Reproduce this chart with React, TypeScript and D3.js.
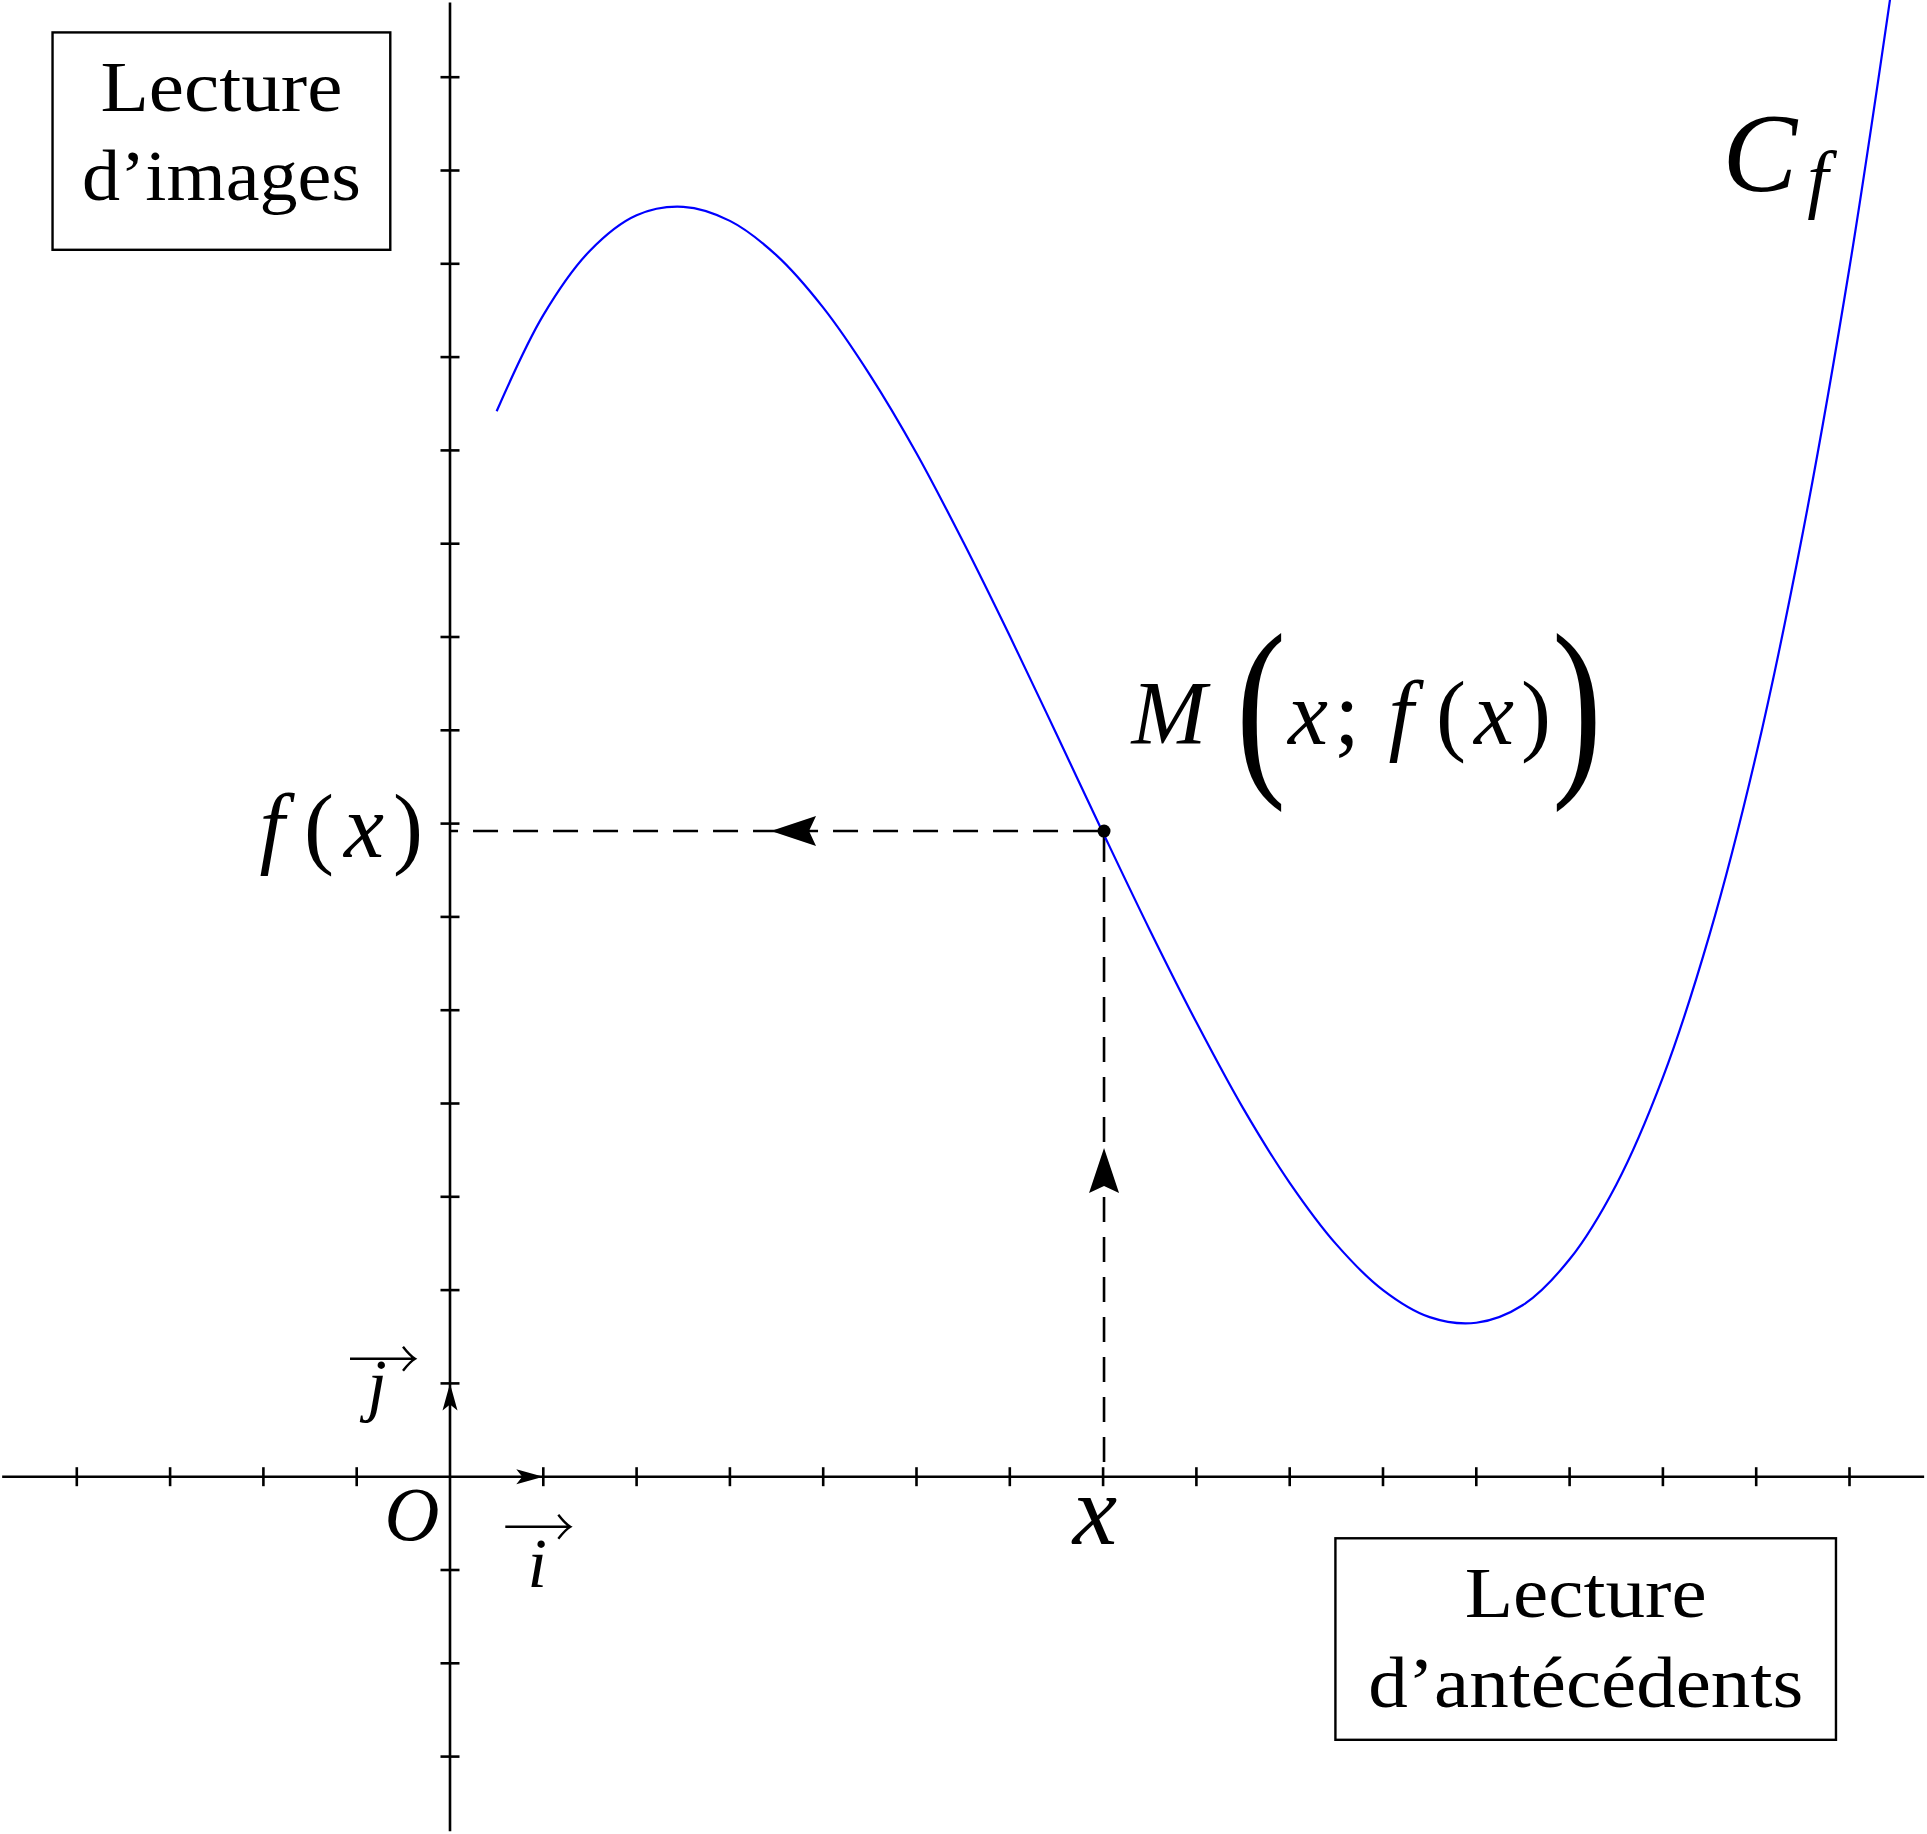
import React from "react";
import * as d3 from "d3";

// graduations du repère (unité = 1)
const xTicks = [-4, -3, -2, -1, 1, 2, 3, 4, 5, 6, 7, 8, 9, 10, 11, 12, 13, 14, 15];
const yTicks = [-3, -2, -1, 1, 2, 3, 4, 5, 6, 7, 8, 9, 10, 11, 12, 13, 14, 15];
const xAxisRange = [-4.8, 15.8];
const yAxisRange = [-3.8, 15.8];

const curveX = [
  0.5, 1, 1.5, 2, 2.5, 3, 3.5, 4, 4.5, 5, 5.5, 6, 6.5, 7, 7.5, 8, 8.5, 9, 9.5,
  10, 10.5, 11, 11.5, 12, 12.5, 13, 13.5, 14, 14.5, 15, 15.45,
];
const curveY = [
  11.42, 12.45, 13.14, 13.52, 13.61, 13.46, 13.09, 12.53, 11.81, 10.97, 10.02,
  9.01, 7.96, 6.9, 5.86, 4.87, 3.95, 3.15, 2.49, 2.0, 1.71, 1.65, 1.84, 2.33,
  3.13, 4.28, 5.81, 7.74, 10.12, 12.96, 15.94,
];

// point M(x ; f(x))
const pointM = [7.01, 6.92];

const boxImagesLines = ["Lecture", "d’images"];
const boxAntecedentsLines = ["Lecture", "d’antécédents"];

const serif = "'Liberation Serif', 'Times New Roman', serif";

export default function App() {
  const W = 1927;
  const H = 1834;
  const ox = 450;
  const oy = 1476.7;
  const unit = 93.3;

  const x = d3.scaleLinear().domain([0, 1]).range([ox, ox + unit]);
  const y = d3.scaleLinear().domain([0, 1]).range([oy, oy - unit]);

  const pts = curveX.map((v, i) => [v, curveY[i]] as [number, number]);
  const line = d3
    .line<[number, number]>()
    .x((d) => x(d[0]))
    .y((d) => y(d[1]))
    .curve(d3.curveCatmullRom.alpha(0.5));

  const mx = x(pointM[0]);
  const my = y(pointM[1]);

  // pointe de flèche (type pstricks), pointe en (0,0) dirigée vers +x
  const head = (len: number, half: number, notch: number) =>
    `M0,0 L${-len},${-half} L${-notch},0 L${-len},${half} Z`;

  // flèche de vecteur au-dessus d'une lettre
  const vecArrow = (x0: number, x1: number, yy: number) =>
    `M${x0},${yy} L${x1},${yy} M${x1 - 12},${yy - 12} Q${x1 - 5},${yy - 3} ${x1},${yy} Q${x1 - 5},${yy + 3} ${x1 - 12},${yy + 12}`;

  // big: grande parenthèse étirée verticalement
  const mPieces = [
    { t: "M", dx: 65, it: true, big: false },
    { t: "(", dx: 157, it: false, big: true },
    { t: "x", dx: 204, it: true, big: false },
    { t: ";", dx: 243, it: false, big: false },
    { t: "f", dx: 297, it: true, big: false },
    { t: "(", dx: 347, it: false, big: false },
    { t: "x", dx: 390, it: true, big: false },
    { t: ")", dx: 432, it: false, big: false },
    { t: ")", dx: 473, it: false, big: true },
  ];

  const fxPieces = [
    { t: "f", dx: -178, it: true },
    { t: "(", dx: -131, it: false },
    { t: "x", dx: -86, it: true },
    { t: ")", dx: -42, it: false },
  ];

  const box = (
    x0: number,
    x1: number,
    y0: number,
    y1: number,
    lines: string[],
    widths: number[],
    base: number[]
  ) => {
    const cx = (x(x0) + x(x1)) / 2;
    return (
      <g>
        <rect
          x={x(x0)}
          y={y(y0)}
          width={x(x1) - x(x0)}
          height={y(y1) - y(y0)}
          fill="none"
          stroke="#000"
          strokeWidth={2.4}
        />
        {lines.map((l, i) => (
          <text
            key={i}
            x={cx}
            y={y(y0) + base[i]}
            textAnchor="middle"
            fontFamily={serif}
            fontSize={72}
            textLength={widths[i]}
            lengthAdjust="spacingAndGlyphs"
          >
            {l}
          </text>
        ))}
      </g>
    );
  };

  const bigScale = 1.31;
  const bigBase = my - 60.7;

  return (
    <svg
      width={W}
      height={H}
      style={{ position: "absolute", left: 0, top: 0, display: "block" }}
    >
      <rect width={W} height={H} fill="#fff" />

      {/* axes */}
      <line x1={x(xAxisRange[0])} x2={x(xAxisRange[1])} y1={oy} y2={oy} stroke="#000" strokeWidth={2.6} />
      <line x1={ox} x2={ox} y1={y(yAxisRange[0])} y2={y(yAxisRange[1])} stroke="#000" strokeWidth={2.6} />
      {xTicks.map((t) => (
        <line key={"xt" + t} x1={x(t)} x2={x(t)} y1={oy - 9.5} y2={oy + 9.5} stroke="#000" strokeWidth={2.6} />
      ))}
      {yTicks.map((t) => (
        <line key={"yt" + t} x1={ox - 9.5} x2={ox + 9.5} y1={y(t)} y2={y(t)} stroke="#000" strokeWidth={2.6} />
      ))}

      {/* vecteurs unitaires */}
      <path d={head(27, 7.5, 21)} transform={`translate(${x(1)},${oy})`} fill="#000" />
      <path d={head(27, 7.5, 21)} transform={`translate(${ox},${y(1)}) rotate(-90)`} fill="#000" />

      {/* pointillés de lecture */}
      <path d={`M${mx},${my} L${ox},${my}`} stroke="#000" strokeWidth={2.6} strokeDasharray="25 15" strokeDashoffset={34} fill="none" />
      <path d={`M${mx},${my} L${mx},${oy}`} stroke="#000" strokeWidth={2.6} strokeDasharray="25 15" strokeDashoffset={34} fill="none" />
      <path d={head(45, 15, 38)} transform={`translate(${mx},${y(pointM[1] / 2) - 6}) rotate(-90)`} fill="#000" />
      <path d={head(45, 15, 38)} transform={`translate(${x(pointM[0] / 2) - 6},${my}) rotate(180)`} fill="#000" />

      {/* courbe */}
      <path d={line(pts) ?? ""} fill="none" stroke="#0000ff" strokeWidth={2.2} />
      <circle cx={mx} cy={my} r={6.5} fill="#000" />

      {/* étiquettes */}
      <g fontFamily={serif} textAnchor="middle">
        <text x={ox - 38} y={oy + 63} fontSize={76} fontStyle="italic">O</text>
        <text x={x(1) - 6} y={oy + 110} fontSize={70} fontStyle="italic">i</text>
        <path d={vecArrow(x(1) - 38, x(1) + 27, oy + 50)} stroke="#000" strokeWidth={2.4} fill="none" />
        <text x={ox - 73} y={oy - 69} fontSize={70} fontStyle="italic">j</text>
        <path d={vecArrow(ox - 100, ox - 35, oy - 118)} stroke="#000" strokeWidth={2.4} fill="none" />

        <text x={mx - 9} y={oy + 67} fontSize={100} fontStyle="italic">x</text>

        {fxPieces.map((p, i) => (
          <text key={"fx" + i} x={ox + p.dx} y={my + 26} fontSize={90} fontStyle={p.it ? "italic" : "normal"}>
            {p.t}
          </text>
        ))}

        {mPieces.map((p, i) =>
          p.big ? (
            <text
              key={"m" + i}
              x={mx + p.dx}
              y={bigBase / bigScale}
              transform={`scale(1,${bigScale})`}
              fontSize={150}
            >
              {p.t}
            </text>
          ) : (
            <text key={"m" + i} x={mx + p.dx} y={my - 87.4} fontSize={90} fontStyle={p.it ? "italic" : "normal"}>
              {p.t}
            </text>
          )
        )}

        <text x={x(14.04)} y={y(13.78)} fontSize={112} fontStyle="italic">C</text>
        <text x={x(14.66)} y={y(13.64)} fontSize={76} fontStyle="italic">f</text>
      </g>

      {box(-4.26, -0.64, 15.48, 13.15, boxImagesLines, [242, 279], [79, 167.3])}
      {box(9.49, 14.855, -0.66, -2.82, boxAntecedentsLines, [242, 435], [78.4, 168.4])}
    </svg>
  );
}
